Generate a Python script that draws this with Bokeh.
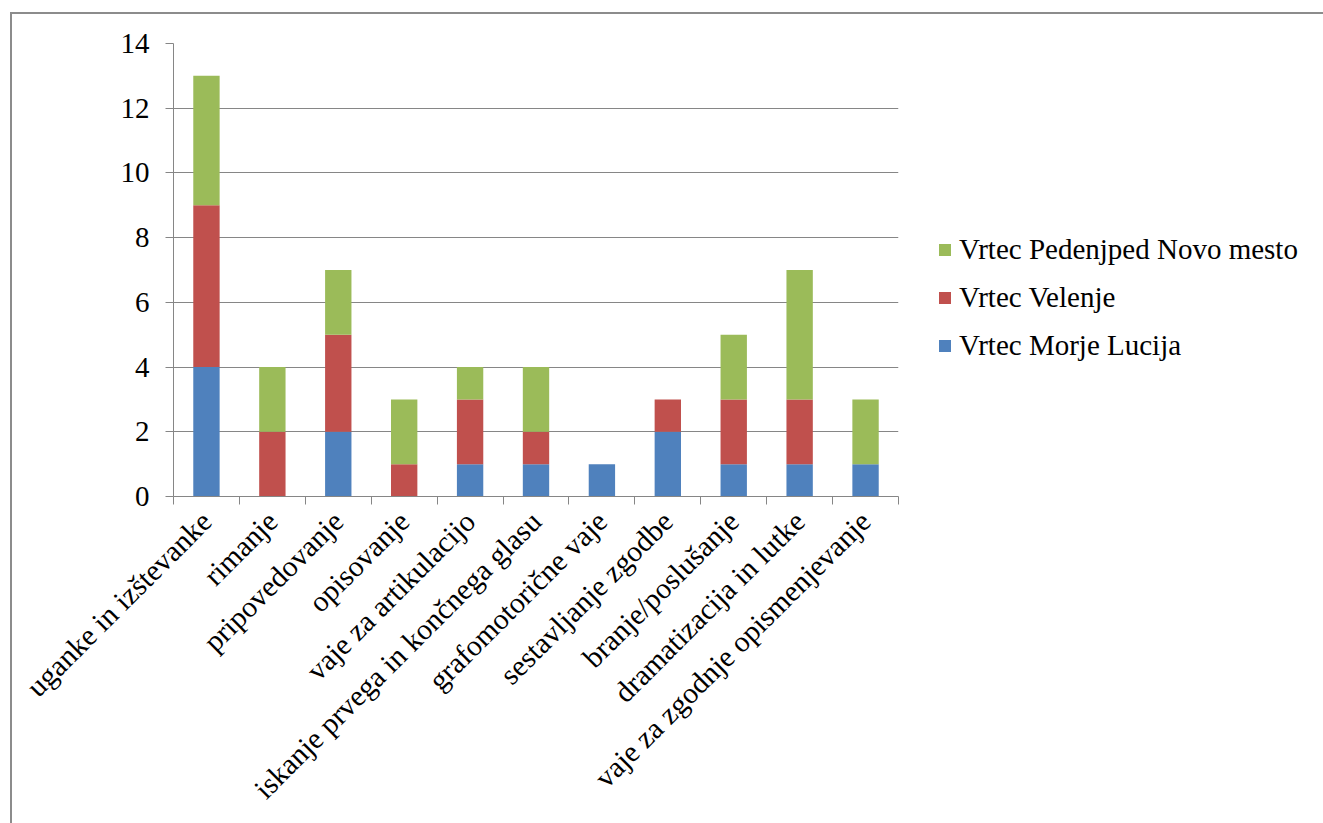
from bokeh.plotting import figure
from bokeh.models import FixedTicker, Legend, LegendItem, Range1d
from bokeh.embed import file_html
from bokeh.resources import INLINE
import math

categories = [
    "uganke in izštevanke",
    "rimanje",
    "pripovedovanje",
    "opisovanje",
    "vaje za artikulacijo",
    "iskanje prvega in končnega glasu",
    "grafomotorične vaje",
    "sestavljanje zgodbe",
    "branje/poslušanje",
    "dramatizacija in lutke",
    "vaje za zgodnje opismenjevanje",
]
morje_lucija = [4, 0, 2, 0, 1, 1, 1, 2, 1, 1, 1]
velenje = [5, 2, 3, 1, 2, 1, 0, 1, 2, 2, 0]
pedenjped = [4, 2, 2, 2, 1, 2, 0, 0, 2, 4, 2]
series_names = ["Vrtec Morje Lucija", "Vrtec Velenje", "Vrtec Pedenjped Novo mesto"]
series_colors = ["#4F81BD", "#C0504D", "#9BBB59"]
y_ticks = [0, 2, 4, 6, 8, 10, 12, 14]

FONT = "'Liberation Serif', 'Times New Roman', serif"
GRID = "#868686"

n = len(categories)
centers = [i + 0.5 for i in range(n)]

p = figure(
    frame_width=725, frame_height=453,
    x_range=Range1d(0, n), y_range=Range1d(0, 14),
    output_backend="svg", toolbar_location=None,
    min_border_left=161, min_border_right=425,
    min_border_top=29, min_border_bottom=327,
)
p.styles = {
    "margin-left": "10px", "margin-top": "12px",
    "border-left": "2px solid #8c8c8c", "border-top": "2px solid #8c8c8c",
}
p.outline_line_color = None
p.background_fill_color = "white"

# stacked bars
bottoms = [0] * n
renderers = []
for vals, color in zip([morje_lucija, velenje, pedenjped], series_colors):
    tops = [b + v for b, v in zip(bottoms, vals)]
    r = p.vbar(x=centers, bottom=bottoms, top=tops, width=0.4,
               fill_color=color, line_color=None)
    renderers.append(r)
    bottoms = tops

# y axis
p.yaxis.ticker = FixedTicker(ticks=y_ticks)
p.yaxis.axis_line_color = GRID
p.yaxis.major_tick_line_color = GRID
p.yaxis.major_tick_in = 0
p.yaxis.major_tick_out = 8
p.yaxis.minor_tick_line_color = None
p.yaxis.major_label_text_font = FONT
p.yaxis.major_label_text_font_size = "29px"
p.yaxis.major_label_text_color = "black"
p.yaxis.major_label_standoff = 16

# x axis: labels at bar centres, tick marks on category boundaries
p.xaxis.ticker = FixedTicker(ticks=centers, minor_ticks=list(range(n + 1)))
p.xaxis.major_label_overrides = {c: lab for c, lab in zip(centers, categories)}
p.xaxis.major_tick_line_color = None
p.xaxis.minor_tick_line_color = GRID
p.xaxis.minor_tick_in = 0
p.xaxis.minor_tick_out = 8
p.xaxis.axis_line_color = GRID
p.xaxis.major_label_orientation = math.pi / 4
p.xaxis.major_label_text_font = FONT
p.xaxis.major_label_text_font_size = "29.5px"
p.xaxis.major_label_text_color = "black"
p.xaxis.major_label_standoff = 12

p.xgrid.grid_line_color = None
p.ygrid.ticker = FixedTicker(ticks=y_ticks)
p.ygrid.grid_line_color = GRID
p.ygrid.grid_line_width = 1

legend = Legend(
    items=[LegendItem(label=name, renderers=[r])
           for name, r in reversed(list(zip(series_names, renderers)))],
    location=(39, 134),
    border_line_color=None, background_fill_alpha=0,
    label_text_font="Liberation Serif", label_text_font_size="29px",
    label_text_color="black",
    glyph_width=15, glyph_height=15, label_standoff=7,
    spacing=15, padding=0, margin=0,
)
p.add_layout(legend, "right")

open("out.html", "w").write(file_html(p, INLINE))
